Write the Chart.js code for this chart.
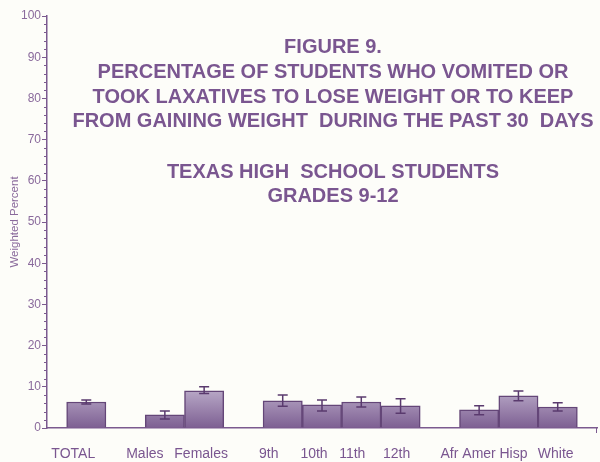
<!DOCTYPE html>
<html>
<head>
<meta charset="utf-8">
<script src="https://cdn.jsdelivr.net/npm/chart.js@4/dist/chart.umd.min.js"></script>
<style>
  html, body { margin: 0; padding: 0; background: #fdfdf9; }
  #wrap { width: 600px; height: 462px; position: relative; }
</style>
</head>
<body>
<div id="wrap"><canvas id="fig9"></canvas></div>
<script>
// groups of categories, separated by an empty slot on the x axis
const groups = [
    ['TOTAL'],
    ['Males', 'Females'],
    ['9th', '10th', '11th', '12th'],
    ['Afr Amer', 'Hisp', 'White']
];
const percent  = [6.3, 3.2, 9.0, 6.6, 5.6, 6.3, 5.4, 4.4, 7.8, 5.1];
const errLow   = [5.8, 2.2, 8.4, 5.3, 4.1, 5.1, 3.6, 3.2, 6.6, 4.1];
const errHigh  = [6.8, 4.1, 10.0, 8.0, 6.8, 7.5, 7.1, 5.4, 9.0, 6.1];
const yTicks   = [0, 10, 20, 30, 40, 50, 60, 70, 80, 90, 100];

const titleLines = [
    'FIGURE 9.',
    'PERCENTAGE OF STUDENTS WHO VOMITED OR',
    'TOOK LAXATIVES TO LOSE WEIGHT OR TO KEEP',
    'FROM GAINING WEIGHT  DURING THE PAST 30  DAYS',
    '',
    'TEXAS HIGH  SCHOOL STUDENTS',
    'GRADES 9-12'
];

// build padded label list: '' before, between and after groups
const labels = [''];
const barData = [null];
const lowData = [null];
const highData = [null];
let k = 0;
groups.forEach(function (g) {
    g.forEach(function (name) {
        labels.push(name);
        barData.push(percent[k]);
        lowData.push(errLow[k]);
        highData.push(errHigh[k]);
        k++;
    });
    labels.push('');
    barData.push(null);
    lowData.push(null);
    highData.push(null);
});

const purple = '#7b5a8f';
const textPurple = '#7a5690';
const fontFamily = '"Liberation Sans", Arial, sans-serif';

// error bars drawn with the chart's own scales
const errorBars = {
    id: 'errorBars',
    afterDatasetsDraw(chart) {
        const ctx = chart.ctx;
        const xs = chart.scales.x, ys = chart.scales.y;
        ctx.save();
        ctx.strokeStyle = '#5a3a6e';
        ctx.lineWidth = 1.5;
        for (let i = 0; i < labels.length; i++) {
            if (barData[i] == null) continue;
            const x = xs.getPixelForValue(i);
            const y1 = ys.getPixelForValue(lowData[i]);
            const y2 = ys.getPixelForValue(highData[i]);
            ctx.beginPath();
            ctx.moveTo(x, y1); ctx.lineTo(x, y2);
            ctx.moveTo(x - 5, y1); ctx.lineTo(x + 5, y1);
            ctx.moveTo(x - 5, y2); ctx.lineTo(x + 5, y2);
            ctx.stroke();
        }
        ctx.restore();
    }
};

// minor ticks on the y axis, end tick on the x axis, and the x labels
// (the labels sit a little left of their bars in the original)
const axisExtras = {
    id: 'axisExtras',
    afterDraw(chart) {
        const ctx = chart.ctx;
        const xs = chart.scales.x, ys = chart.scales.y;
        const area = chart.chartArea;
        ctx.save();
        ctx.strokeStyle = purple;
        ctx.lineWidth = 1;
        for (let v = 2; v < 100; v += 2) {
            if (v % 10 === 0) continue;
            const y = Math.round(ys.getPixelForValue(v)) + 0.5;
            ctx.beginPath();
            ctx.moveTo(area.left - 3, y);
            ctx.lineTo(area.left, y);
            ctx.stroke();
        }
        ctx.beginPath();
        ctx.moveTo(area.right - 0.5, area.bottom);
        ctx.lineTo(area.right - 0.5, area.bottom + 5);
        ctx.stroke();

        const shift = {
            'TOTAL': -13, 'Males': -20, 'Females': -3, '9th': -14, '10th': -8,
            '11th': -9, '12th': -4, 'Afr Amer': -11, 'Hisp': -5, 'White': -2
        };
        ctx.fillStyle = textPurple;
        ctx.font = '14px ' + fontFamily;
        ctx.textAlign = 'center';
        ctx.textBaseline = 'middle';
        labels.forEach(function (name, i) {
            if (!name) return;
            ctx.fillText(name, xs.getPixelForValue(i) + shift[name], area.bottom + 26);
        });
        ctx.restore();
    }
};

// figure title drawn inside the plot area
const figureTitle = {
    id: 'figureTitle',
    afterDraw(chart) {
        const ctx = chart.ctx;
        const ys = [47, 72, 97, 121, 0, 172, 196];
        ctx.save();
        ctx.fillStyle = textPurple;
        ctx.font = 'bold 20px ' + fontFamily;
        ctx.textAlign = 'center';
        ctx.textBaseline = 'middle';
        titleLines.forEach(function (line, i) {
            if (!line) return;
            ctx.fillText(line, 333, ys[i]);
        });
        ctx.restore();
    }
};

document.addEventListener('DOMContentLoaded', function () {
    const ctx = document.getElementById('fig9').getContext('2d');

    const grad = ctx.createLinearGradient(0, 385, 0, 428);
    grad.addColorStop(0, '#c0b2ce');
    grad.addColorStop(1, '#7d5f92');

    new Chart(ctx, {
        type: 'bar',
        data: {
            labels: labels,
            datasets: [{
                data: barData,
                backgroundColor: grad,
                borderColor: '#644678',
                borderWidth: 1.5,
                borderSkipped: 'bottom',
                barPercentage: 1,
                categoryPercentage: 1
            }]
        },
        options: {
            responsive: true,
            maintainAspectRatio: false,
            animation: false,
            layout: { padding: { top: 16, right: 3, left: 0, bottom: 0 } },
            plugins: {
                legend: { display: false },
                tooltip: { enabled: false }
            },
            scales: {
                x: {
                    offset: false,
                    grid: { display: false },
                    border: { display: true, color: purple, width: 1.5 },
                    ticks: { display: false },
                    afterFit(scale) { scale.height = 34; }
                },
                y: {
                    min: 0,
                    max: 100,
                    afterBuildTicks(scale) {
                        scale.ticks = yTicks.map(function (v) { return { value: v }; });
                    },
                    grid: {
                        drawOnChartArea: false,
                        tickLength: 5,
                        color: purple,
                        lineWidth: 1
                    },
                    border: { display: true, color: purple, width: 1.5 },
                    ticks: {
                        padding: 1,
                        color: '#8a6a9c',
                        font: { family: fontFamily, size: 12 }
                    },
                    title: {
                        display: true,
                        text: 'Weighted Percent',
                        color: '#8a6a9c',
                        padding: { top: 8, bottom: 0 },
                        font: { family: fontFamily, size: 11.5 }
                    },
                    afterFit(scale) { scale.width = 47; }
                }
            }
        },
        plugins: [errorBars, axisExtras, figureTitle]
    });
});
</script>
</body>
</html>
